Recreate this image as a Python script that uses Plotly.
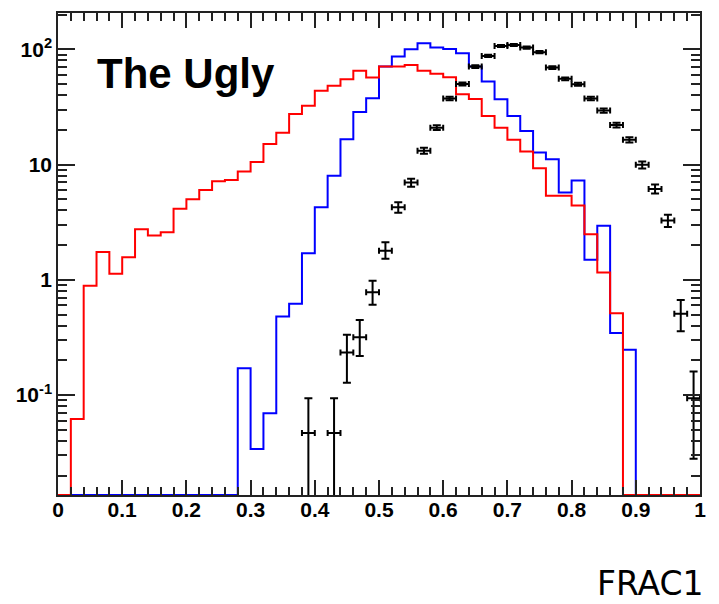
import numpy as np
import plotly.graph_objects as go

# ---- data ----
bin_edges = [round(i * 0.02, 2) for i in range(51)]

red_vals = [0, 0.062, 0.89, 1.74, 1.13, 1.57, 2.75, 2.42, 2.59, 4.13,
            5.01, 6.03, 7.18, 7.36, 8.69, 10.5, 15.1, 18.9, 27.5, 32.3,
            43.8, 48.2, 55.1, 65.0, 56.9, 70.8, 70.8, 73.2, 65.0, 61.3,
            57.3, 40.8, 37.1, 26.4, 20.9, 16.4, 13.0, 9.3, 5.35, 5.35,
            4.41, 2.49, 1.16, 0.514, 0, 0, 0, 0, 0, 0]

blue_vals = [0, 0, 0, 0, 0, 0, 0, 0, 0, 0,
             0, 0, 0, 0, 0.171, 0.034, 0.0697, 0.48, 0.62, 1.70,
             4.27, 7.98, 16.6, 28.6, 37.7, 70.8, 86.5, 100, 113, 103.5,
             100.7, 92.5, 70.8, 52.5, 36.9, 26.4, 19.6, 12.7, 11.1, 5.71,
             7.26, 1.49, 2.94, 0.345, 0.247, 0, 0, 0, 0, 0]

pts_x = [0.39, 0.43, 0.45, 0.47, 0.49, 0.51, 0.53, 0.55, 0.57, 0.59,
         0.61, 0.63, 0.65, 0.67, 0.69, 0.71, 0.73, 0.75, 0.77, 0.79,
         0.81, 0.83, 0.85, 0.87, 0.89, 0.91, 0.93, 0.95, 0.97, 0.99]
pts_y = [0.0468, 0.0468, 0.234, 0.318, 0.782, 1.79, 4.27, 6.98, 13.2, 20.9,
         37.4, 50.1, 70.8, 87.7, 107, 109, 103.5, 94.4, 69.4, 55.4,
         49.8, 37.4, 29.4, 22.0, 16.4, 9.94, 6.15, 3.27, 0.507, 0.094]
pts_err_up = [0.047, 0.047, 0.10, 0.13, 0.20, 0.33, 0.45, 0.57, 0.8, 1.0,
              1.3, 1.5, 1.8, 2.0, 2.2, 2.3, 2.2, 2.1, 1.8, 1.6,
              1.5, 1.3, 1.2, 1.0, 0.9, 0.7, 0.55, 0.4, 0.16, 0.066]
pts_err_dn = [0.0468, 0.0468, 0.106, 0.10, 0.175, 0.27, 0.45, 0.57, 0.8, 1.0,
              1.3, 1.5, 1.8, 2.0, 2.2, 2.3, 2.2, 2.1, 1.8, 1.6,
              1.5, 1.3, 1.2, 1.0, 0.9, 0.7, 0.55, 0.4, 0.15, 0.066]
bin_half_width = 0.01

y_tick_vals = [0.1, 1, 10, 100]
y_tick_text = ["10<sup>-1</sup>", "1", "10", "10<sup>2</sup>"]
x_tick_vals = [0, 0.1, 0.2, 0.3, 0.4, 0.5, 0.6, 0.7, 0.8, 0.9, 1]
x_tick_text = ["0", "0.1", "0.2", "0.3", "0.4", "0.5", "0.6", "0.7", "0.8", "0.9", "1"]

title_text = "The Ugly"
x_title = "FRAC1"

# ---- plotting ----
Y_LOG_MIN, Y_LOG_MAX = -1.867, 2.315
y_floor = 10 ** Y_LOG_MIN


def hist_y(vals):
    v = [x if x > 0 else y_floor for x in vals]
    return v + [v[-1]]


fig = go.Figure()
fig.add_trace(go.Scatter(x=bin_edges, y=hist_y(blue_vals), mode="lines",
                         line=dict(color="#0000ff", width=2, shape="hv"),
                         showlegend=False))
fig.add_trace(go.Scatter(x=bin_edges, y=hist_y(red_vals), mode="lines",
                         line=dict(color="#ff0000", width=2, shape="hv"),
                         showlegend=False))
fig.add_trace(go.Scatter(
    x=pts_x, y=pts_y, mode="markers",
    marker=dict(size=1, color="black"),
    error_y=dict(type="data", array=pts_err_up, arrayminus=pts_err_dn,
                 color="black", thickness=2, width=4),
    error_x=dict(type="constant", value=bin_half_width,
                 color="black", thickness=2, width=3),
    showlegend=False))

y_minor = [m * 10 ** d for d in range(-2, 3) for m in range(2, 10)]
x_minor = [round(i * 0.02, 2) for i in range(51)]

tickfont = dict(family="Liberation Sans, Arial, sans-serif", size=21,
                color="black", weight="bold")

fig.update_xaxes(range=[0, 1], tickmode="array", tickvals=x_tick_vals,
                 ticktext=x_tick_text, ticks="inside", ticklen=15,
                 tickwidth=1.5, tickcolor="#222", ticklabelstandoff=-5,
                 minor=dict(tickmode="array", tickvals=x_minor, ticks="inside",
                            ticklen=8, tickwidth=1.5, tickcolor="#222",
                            showgrid=False),
                 showline=True, linecolor="#222", linewidth=1.5,
                 mirror="allticks", showgrid=False, zeroline=False,
                 tickfont=tickfont)
fig.update_yaxes(type="log", range=[Y_LOG_MIN, Y_LOG_MAX], tickmode="array",
                 tickvals=y_tick_vals, ticktext=y_tick_text, ticks="inside",
                 ticklen=17, tickwidth=1.5, tickcolor="#222",
                 minor=dict(tickmode="array", tickvals=y_minor, ticks="inside",
                            ticklen=9, tickwidth=1.5, tickcolor="#222",
                            showgrid=False),
                 showline=True, linecolor="#222", linewidth=1.5,
                 mirror="allticks", showgrid=False, zeroline=False,
                 tickfont=tickfont)

fig.add_annotation(text=title_text, xref="paper", yref="paper",
                   x=0.058, y=0.875, xanchor="left", yanchor="middle",
                   showarrow=False,
                   font=dict(family="Liberation Sans, Arial, sans-serif",
                             size=42, color="black", weight="bold"))
fig.add_annotation(text=x_title, xref="paper", yref="paper",
                   x=1.01, y=-0.183, xanchor="right", yanchor="middle",
                   showarrow=False,
                   font=dict(family="DejaVu Sans, sans-serif", size=33,
                             color="black", weight="normal"))

fig.update_layout(width=719, height=604,
                  margin=dict(l=58, r=19, t=13, b=109),
                  paper_bgcolor="white", plot_bgcolor="white")

fig.write_html("out.html")
